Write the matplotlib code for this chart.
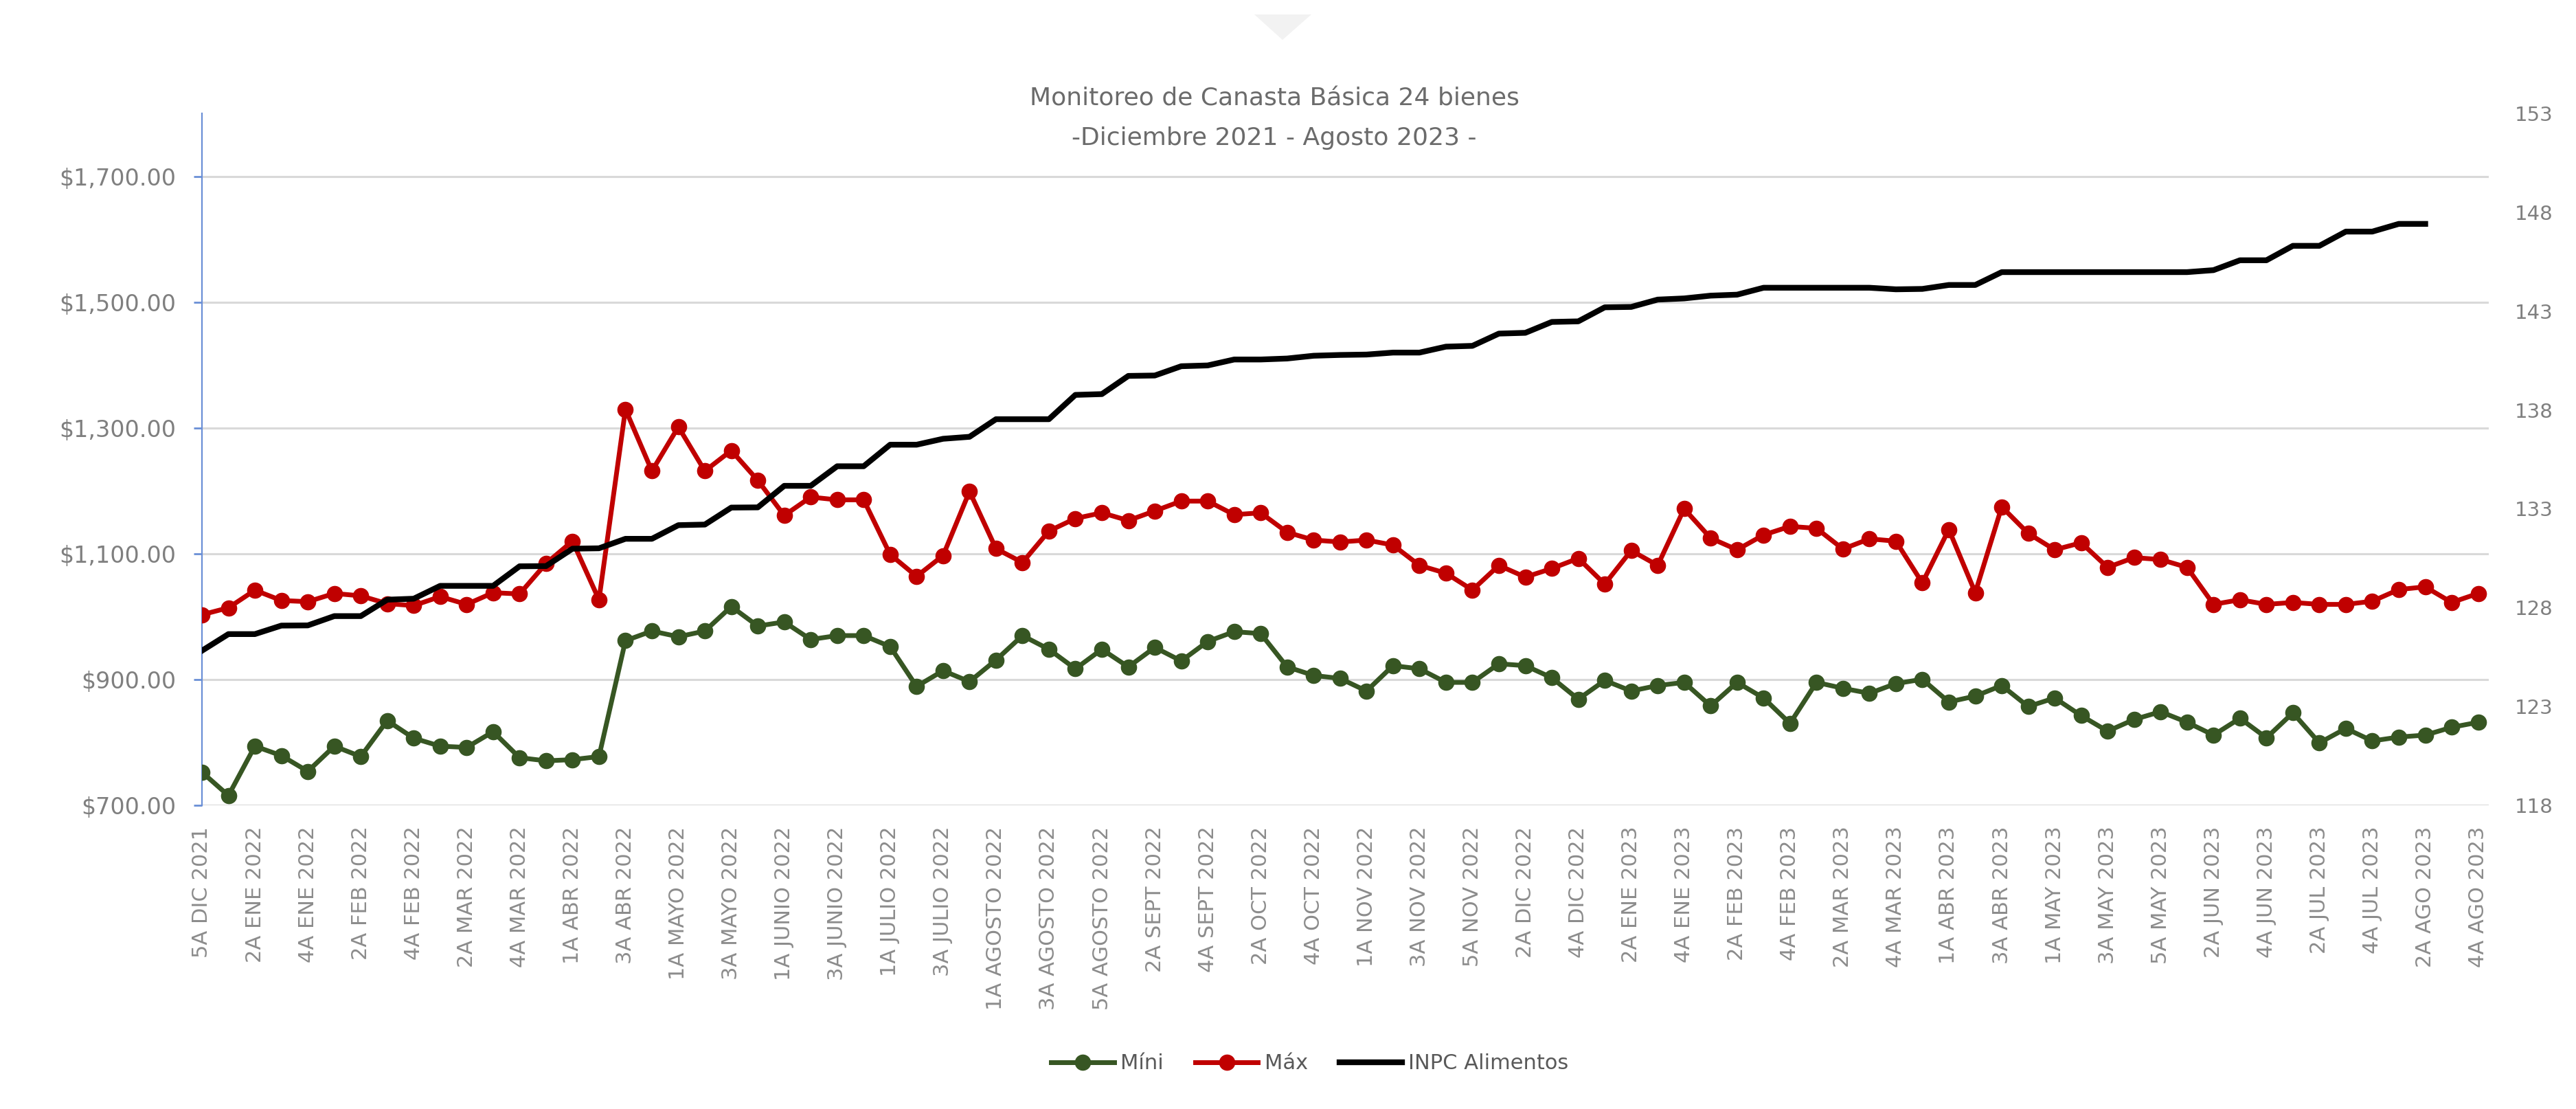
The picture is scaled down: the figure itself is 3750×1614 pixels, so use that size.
import numpy as np
import matplotlib
matplotlib.use('Agg')
import matplotlib.pyplot as plt
from matplotlib.patches import Polygon

# weekly categories (only every second one is labelled on the axis)
semanas = ['5A DIC 2021', '1A ENE 2022', '2A ENE 2022', '3A ENE 2022', '4A ENE 2022',
           '1A FEB 2022', '2A FEB 2022', '3A FEB 2022', '4A FEB 2022',
           '1A MAR 2022', '2A MAR 2022', '3A MAR 2022', '4A MAR 2022', '5A MAR 2022',
           '1A ABR 2022', '2A ABR 2022', '3A ABR 2022', '4A ABR 2022',
           '1A MAYO 2022', '2A MAYO 2022', '3A MAYO 2022', '4A MAYO 2022',
           '1A JUNIO 2022', '2A JUNIO 2022', '3A JUNIO 2022', '4A JUNIO 2022',
           '1A JULIO 2022', '2A JULIO 2022', '3A JULIO 2022', '4A JULIO 2022',
           '1A AGOSTO 2022', '2A AGOSTO 2022', '3A AGOSTO 2022', '4A AGOSTO 2022', '5A AGOSTO 2022',
           '1A SEPT 2022', '2A SEPT 2022', '3A SEPT 2022', '4A SEPT 2022',
           '1A OCT 2022', '2A OCT 2022', '3A OCT 2022', '4A OCT 2022', '5A OCT 2022',
           '1A NOV 2022', '2A NOV 2022', '3A NOV 2022', '4A NOV 2022', '5A NOV 2022',
           '1A DIC 2022', '2A DIC 2022', '3A DIC 2022', '4A DIC 2022',
           '1A ENE 2023', '2A ENE 2023', '3A ENE 2023', '4A ENE 2023',
           '1A FEB 2023', '2A FEB 2023', '3A FEB 2023', '4A FEB 2023',
           '1A MAR 2023', '2A MAR 2023', '3A MAR 2023', '4A MAR 2023', '5A MAR 2023',
           '1A ABR 2023', '2A ABR 2023', '3A ABR 2023', '4A ABR 2023',
           '1A MAY 2023', '2A MAY 2023', '3A MAY 2023', '4A MAY 2023', '5A MAY 2023',
           '1A JUN 2023', '2A JUN 2023', '3A JUN 2023', '4A JUN 2023',
           '1A JUL 2023', '2A JUL 2023', '3A JUL 2023', '4A JUL 2023',
           '1A AGO 2023', '2A AGO 2023', '3A AGO 2023', '4A AGO 2023']

minimo = [752.7, 715.5, 794, 779, 754, 794, 777.5, 834.6, 806.7, 794, 792, 817, 775.7, 770.7, 772.6, 777.5,
          961.7, 977, 968, 977, 1016, 985,
          991.5, 963.6, 969.8, 969.8, 952.4, 889, 914, 896.6, 931, 969.8, 948, 917, 948, 920, 951, 929.5,
          960.5, 976, 973, 920, 906.5, 901.6,
          881.7, 922, 917, 895.4, 895.4, 925, 922, 902.8, 868.7, 898.5, 881.7, 890.4, 895.4, 858, 895.4,
          870.6, 830.2, 895.4, 886, 878, 893.5,
          900.3, 864.3, 873.6, 890.4, 857, 870.6, 842.6, 817.8, 836.4, 848.8, 832, 811.6, 838.3, 807.3,
          847, 799.2, 822.2, 802.3, 808.5, 811.6, 824, 832]

maximo = [1003, 1014, 1042, 1025.6, 1023.7, 1036.8, 1033, 1020.6, 1017.5, 1031.8, 1019.4, 1038, 1036, 1084.5,
          1120, 1026.8, 1329.5, 1231.5, 1301.6, 1231.5, 1264, 1216.6,
          1160.8, 1190, 1185.6, 1185.6, 1098.8, 1064, 1097, 1199, 1108, 1086, 1136, 1156, 1165, 1152.7, 1168,
          1183.6, 1183.6, 1162, 1165, 1134, 1121.7, 1118.6,
          1121.7, 1113.7, 1081.4, 1069, 1042.3, 1081.4, 1062.8, 1076.4, 1092.6, 1051.7, 1105, 1081.4, 1171.4,
          1124.8, 1106.2, 1129.8, 1143.4, 1140.3, 1107.4, 1123.6, 1119.9,
          1053.5, 1138.5, 1038, 1174.5, 1132.3, 1106.2, 1117.4, 1078.3, 1093.8, 1090.7, 1078.3, 1019.4, 1026.8,
          1019.4, 1022.5, 1019.4, 1019.4, 1024.4, 1043, 1047.3, 1022.5, 1036.8]

inpc = [125.82, 126.66, 126.66, 127.09, 127.1, 127.57, 127.57, 128.4, 128.45, 129.1, 129.1, 129.1, 130.09,
        130.1, 130.98, 131.0, 131.48, 131.48, 132.17, 132.2, 133.06, 133.07,
        134.16, 134.16, 135.15, 135.15, 136.24, 136.24, 136.54, 136.64, 137.53, 137.53, 137.53, 138.76, 138.8,
        139.72, 139.74, 140.21, 140.25, 140.55, 140.55, 140.6, 140.74, 140.78,
        140.8, 140.9, 140.9, 141.2, 141.24, 141.86, 141.9, 142.45, 142.48, 143.19, 143.21, 143.58, 143.64,
        143.78, 143.83, 144.18, 144.18, 144.18, 144.18, 144.18, 144.1,
        144.12, 144.32, 144.32, 144.97, 144.97, 144.97, 144.97, 144.97, 144.97, 144.97, 144.97, 145.07,
        145.57, 145.57, 146.3, 146.3, 147.02, 147.02, 147.41, 147.41, np.nan, np.nan]

pesos_ticks = [700, 900, 1100, 1300, 1500, 1700]
inpc_ticks = [118, 123, 128, 133, 138, 143, 148, 153]

verde = '#375623'
rojo = '#C00000'
gris_txt = '#7f7f7f'

fig = plt.figure(figsize=(37.5, 16.14), dpi=100)
fig.patch.set_facecolor('white')

# small grey triangle at the top
fig.patches.append(Polygon([[1826 / 3750, 1 - 21 / 1614], [1909 / 3750, 1 - 21 / 1614], [1867 / 3750, 1 - 58 / 1614]],
                           closed=True, transform=fig.transFigure, facecolor='#f2f2f2', edgecolor='none'))

ax = fig.add_axes([294 / 3750, 1 - 1172 / 1614, (3623 - 294) / 3750, (1172 - 165) / 1614])
ax2 = ax.twinx()

x = np.arange(len(semanas))

l1, = ax.plot(x, minimo, color=verde, lw=5, marker='o', markersize=16, label='Míni', zorder=3)
l2, = ax.plot(x, maximo, color=rojo, lw=5, marker='o', markersize=16, label='Máx', zorder=3)
l3, = ax2.plot(x, inpc, color='black', lw=6, label='INPC Alimentos', zorder=3)

ax.set_xlim(0, len(semanas) - 1 + 0.4)
ax.set_ylim(700, 1800)
ax2.set_ylim(118, 153)

ax.set_yticks(pesos_ticks)
ax.set_yticklabels(['${:,.2f}'.format(v) for v in pesos_ticks])
ax2.set_yticks(inpc_ticks)
ax2.set_yticklabels([str(v) for v in inpc_ticks])

ax.set_xticks(x[::2])
ax.set_xticklabels(semanas[::2], rotation=90, va='top', ha='center')

ax.grid(axis='y', color='#d9d9d9', lw=2.2)
ax.set_axisbelow(True)

for s in ['top', 'right', 'bottom']:
    ax.spines[s].set_visible(False)
    ax2.spines[s].set_visible(False)
ax2.spines['left'].set_visible(False)
ax.spines['left'].set_color('#6a8fd6')
ax.spines['left'].set_linewidth(1.6)

ax.tick_params(axis='y', colors='#6a8fd6', length=9, width=2, pad=18, labelsize=24, labelcolor=gris_txt)
ax.tick_params(axis='x', length=0, pad=22, labelsize=22, labelcolor='#8c8c8c')
ax2.tick_params(axis='y', length=0, pad=27, labelsize=21, labelcolor=gris_txt)

fig.text(0.4947, 1 - 143 / 1614, 'Monitoreo de Canasta Básica 24 bienes', ha='center', va='center',
         fontsize=26, color='#6b6b6b')
fig.text(0.4947, 1 - 201 / 1614, '-Diciembre 2021 - Agosto 2023 -', ha='center', va='center',
         fontsize=26, color='#6b6b6b')

leg = fig.legend(handles=[l1, l2, l3], loc='center', bbox_to_anchor=(1907 / 3750, 1 - 1548 / 1614), ncol=3,
                 frameon=False, fontsize=22, handlelength=3.0, handletextpad=0.3, columnspacing=1.5)
for t in leg.get_texts():
    t.set_color('#595959')

plt.savefig('out.png', dpi=100)
